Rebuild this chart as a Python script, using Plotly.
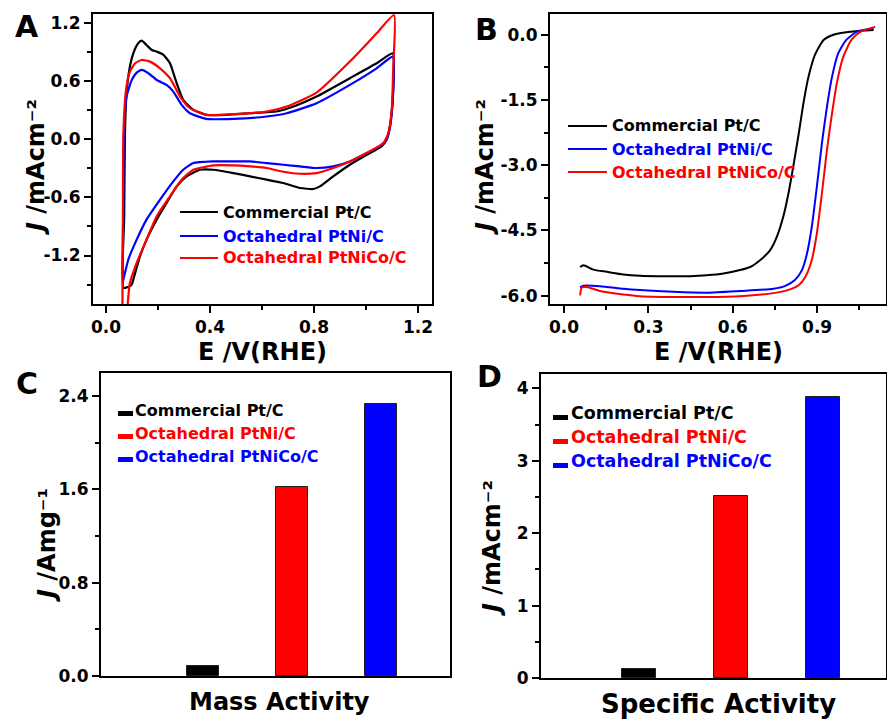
import plotly.graph_objects as go

W, H = 887, 725
FONT = "DejaVu Sans"

samples = ["Commercial Pt/C", "Octahedral PtNi/C", "Octahedral PtNiCo/C"]

# ---- Panel A: cyclic voltammograms (E in V vs RHE, J in mA/cm2) ----
cv_pt_E = [0.067, 0.070, 0.073, 0.079, 0.092, 0.105, 0.124, 0.137, 0.156, 0.176, 0.195, 0.221, 0.246,
           0.272, 0.297, 0.336, 0.387, 0.464, 0.554, 0.656, 0.721, 0.810, 0.938, 1.041, 1.103,
           1.103, 1.092, 1.079, 1.060, 1.003, 0.938, 0.874, 0.823, 0.797, 0.746, 0.682, 0.618, 0.554,
           0.490, 0.413, 0.362, 0.310, 0.272, 0.233, 0.195, 0.156, 0.131, 0.105, 0.099, 0.092, 0.067]
cv_pt_J = [-1.533, -0.800, 0.062, 0.473, 0.748, 0.885, 0.988, 1.015, 0.970, 0.919, 0.902, 0.868, 0.782,
           0.576, 0.405, 0.302, 0.250, 0.250, 0.267, 0.285, 0.336, 0.439, 0.628, 0.782, 0.885,
           0.405, 0.130, -0.007, -0.075, -0.161, -0.264, -0.384, -0.487, -0.514, -0.504, -0.453, -0.418, -0.384,
           -0.350, -0.316, -0.316, -0.384, -0.487, -0.658, -0.830, -1.036, -1.207, -1.447, -1.499, -1.516, -1.533]

cv_ni_E = [0.064, 0.066, 0.069, 0.079, 0.099, 0.118, 0.137, 0.163, 0.195, 0.233, 0.259, 0.291, 0.323,
           0.387, 0.490, 0.618, 0.695, 0.810, 0.938, 1.041, 1.103,
           1.103, 1.092, 1.079, 1.054, 1.003, 0.938, 0.874, 0.810, 0.746, 0.682, 0.618, 0.554, 0.490,
           0.413, 0.336, 0.297, 0.259, 0.208, 0.156, 0.118, 0.086, 0.067, 0.064]
cv_ni_J = [-1.481, -0.800, 0.062, 0.439, 0.610, 0.686, 0.713, 0.679, 0.610, 0.559, 0.490, 0.353, 0.267,
           0.209, 0.209, 0.233, 0.267, 0.370, 0.559, 0.730, 0.850,
           0.405, 0.113, -0.007, -0.075, -0.144, -0.230, -0.281, -0.298, -0.281, -0.264, -0.247, -0.230, -0.230,
           -0.230, -0.247, -0.316, -0.436, -0.624, -0.830, -1.036, -1.241, -1.447, -1.481]

cv_co_E = [0.063, 0.065, 0.067, 0.077, 0.092, 0.112, 0.137, 0.169, 0.208, 0.246, 0.285, 0.323, 0.387,
           0.490, 0.618, 0.695, 0.810, 0.938, 1.041, 1.108,
           1.105, 1.099, 1.086, 1.067, 1.003, 0.938, 0.874, 0.810, 0.746, 0.682, 0.618, 0.554, 0.490,
           0.413, 0.336, 0.291, 0.246, 0.195, 0.156, 0.118, 0.092, 0.079]
cv_co_J = [-1.850, -0.800, 0.062, 0.508, 0.696, 0.782, 0.816, 0.799, 0.730, 0.628, 0.439, 0.319, 0.250,
           0.257, 0.285, 0.336, 0.480, 0.800, 1.091, 1.279,
           0.748, 0.302, 0.062, -0.041, -0.144, -0.230, -0.298, -0.350, -0.357, -0.336, -0.298, -0.281, -0.271,
           -0.271, -0.316, -0.418, -0.590, -0.796, -1.036, -1.276, -1.481, -1.850]

# ---- Panel B: ORR polarization curves ----
lsv_pt_E = [0.057, 0.069, 0.104, 0.152, 0.211, 0.270, 0.330, 0.389, 0.448, 0.508, 0.567, 0.626, 0.662,
            0.698, 0.733, 0.757, 0.781, 0.798, 0.816, 0.834, 0.852, 0.870, 0.893, 0.923, 0.958, 1.018, 1.101]
lsv_pt_J = [-5.34, -5.30, -5.40, -5.45, -5.51, -5.54, -5.55, -5.55, -5.55, -5.53, -5.49, -5.41, -5.34,
            -5.18, -4.95, -4.64, -4.15, -3.65, -3.00, -2.30, -1.55, -0.95, -0.45, -0.12, 0.00, 0.07, 0.11]

lsv_ni_E = [0.057, 0.069, 0.128, 0.211, 0.270, 0.389, 0.508, 0.626, 0.745, 0.785, 0.821, 0.846, 0.864,
            0.881, 0.899, 0.917, 0.935, 0.953, 0.975, 1.004, 1.042, 1.101]
lsv_ni_J = [-5.81, -5.77, -5.78, -5.84, -5.87, -5.91, -5.93, -5.89, -5.84, -5.78, -5.64, -5.41, -5.03,
            -4.42, -3.50, -2.50, -1.66, -0.97, -0.43, -0.12, 0.07, 0.15]

lsv_co_E = [0.057, 0.063, 0.081, 0.128, 0.211, 0.270, 0.389, 0.508, 0.626, 0.745, 0.796, 0.834, 0.858,
            0.881, 0.899, 0.917, 0.935, 0.953, 0.970, 0.993, 1.022, 1.055, 1.107]
lsv_co_J = [-5.99, -5.81, -5.80, -5.89, -5.97, -6.01, -6.03, -6.03, -6.01, -5.94, -5.87, -5.76, -5.57,
            -5.18, -4.57, -3.65, -2.65, -1.81, -1.12, -0.51, -0.12, 0.07, 0.18]

# ---- Panels C, D: activities ----
mass_activity = [0.09, 1.62, 2.33]        # A/mg
specific_activity = [0.13, 2.51, 3.88]    # mA/cm2

# tick labels
a_xticks = [0.0, 0.4, 0.8, 1.2]
a_xtext = ["0.0", "0.4", "0.8", "1.2"]
a_yticks = [-1.2, -0.6, 0.0, 0.6, 1.2]
a_ytext = ["-1.2", "-0.6", "0.0", "0.6", "1.2"]
b_xticks = [0.0, 0.3, 0.6, 0.9]
b_xtext = ["0.0", "0.3", "0.6", "0.9"]
b_yticks = [-6.0, -4.5, -3.0, -1.5, 0.0]
b_ytext = ["-6.0", "-4.5", "-3.0", "-1.5", "0.0"]
c_yticks = [0.0, 0.8, 1.6, 2.4]
c_ytext = ["0.0", "0.8", "1.6", "2.4"]
d_yticks = [0, 1, 2, 3, 4]
d_ytext = ["0", "1", "2", "3", "4"]

BLACK, BLUE, RED = "#000000", "#0000FF", "#FF0000"
line_colors = [BLACK, BLUE, RED]
bar_colors = [BLACK, RED, BLUE]


def px(x):
    return x / W


def py(y):
    return 1 - y / H


def bold(labels):
    return ["<b>%s</b>" % s for s in labels]


fig = go.Figure()

for E, J, name, c in [(cv_pt_E, cv_pt_J, samples[0], BLACK),
                      (cv_ni_E, cv_ni_J, samples[1], BLUE),
                      (cv_co_E, cv_co_J, samples[2], RED)]:
    fig.add_trace(go.Scatter(x=E, y=J, name=name, mode="lines", showlegend=False,
                             line=dict(color=c, width=2.2, shape="spline", smoothing=0.5),
                             xaxis="x", yaxis="y"))

for E, J, name, c in [(lsv_pt_E, lsv_pt_J, samples[0], BLACK),
                      (lsv_ni_E, lsv_ni_J, samples[1], BLUE),
                      (lsv_co_E, lsv_co_J, samples[2], RED)]:
    fig.add_trace(go.Scatter(x=E, y=J, name=name, mode="lines", showlegend=False,
                             line=dict(color=c, width=2, shape="spline", smoothing=0.6),
                             xaxis="x2", yaxis="y2"))

fig.add_trace(go.Bar(x=samples, y=mass_activity, width=0.37, showlegend=False,
                     marker=dict(color=bar_colors, line=dict(color="#202020", width=1)),
                     xaxis="x3", yaxis="y3"))
fig.add_trace(go.Bar(x=samples, y=specific_activity, width=0.37, showlegend=False,
                     marker=dict(color=bar_colors, line=dict(color="#202020", width=1)),
                     xaxis="x4", yaxis="y4"))

tickfont = dict(family=FONT, size=17, color="black", weight="bold")
common = dict(showline=True, linewidth=2, linecolor="black", mirror=True, showgrid=False,
              zeroline=False, ticks="outside", ticklen=7, tickwidth=2, tickcolor="black",
              tickfont=tickfont, automargin=False)


def minor(d):
    return dict(tickmode="linear", tick0=0, dtick=d, ticks="outside", ticklen=4,
                tickwidth=2, tickcolor="black", showgrid=False)


fig.update_layout(
    width=W, height=H, margin=dict(l=0, r=0, t=0, b=0),
    paper_bgcolor="white", plot_bgcolor="white", showlegend=False, bargap=0,
    xaxis=dict(domain=[px(93), px(432)], range=[-0.05, 1.254], anchor="y",
               tickmode="array", tickvals=a_xticks, ticktext=bold(a_xtext), minor=minor(0.2), **common),
    yaxis=dict(domain=[py(304), py(14)], range=[-1.70, 1.29], anchor="x",
               tickmode="array", tickvals=a_yticks, ticktext=bold(a_ytext), minor=minor(0.3), **common),
    xaxis2=dict(domain=[px(550), px(886)], range=[-0.05, 1.145], anchor="y2",
                tickmode="array", tickvals=b_xticks, ticktext=bold(b_xtext), minor=minor(0.15), **common),
    yaxis2=dict(domain=[py(304), py(14)], range=[-6.19, 0.476], anchor="x2",
                tickmode="array", tickvals=b_yticks, ticktext=bold(b_ytext), minor=minor(0.75), **common),
    xaxis3=dict(domain=[px(101), px(450)], range=[-1.146, 2.775], anchor="y3", type="category",
                showline=True, linewidth=2, linecolor="black", mirror=True, showgrid=False,
                zeroline=False, ticks="", showticklabels=False, automargin=False),
    yaxis3=dict(domain=[py(676), py(373)], range=[0, 2.597], anchor="x3",
                tickmode="array", tickvals=c_yticks, ticktext=bold(c_ytext), minor=minor(0.4), **common),
    xaxis4=dict(domain=[px(541), px(886)], range=[-1.073, 2.69], anchor="y4", type="category",
                showline=True, linewidth=2, linecolor="black", mirror=True, showgrid=False,
                zeroline=False, ticks="", showticklabels=False, automargin=False),
    yaxis4=dict(domain=[py(678), py(374)], range=[0, 4.2], anchor="x4",
                tickmode="array", tickvals=d_yticks, ticktext=bold(d_ytext), minor=minor(0.5), **common),
)

ann = []
shapes = []


def text(x, y, s, size, color="black", xanchor="center", angle=0):
    ann.append(dict(x=px(x), y=py(y), xref="paper", yref="paper", text=s, showarrow=False,
                    xanchor=xanchor, yanchor="middle", textangle=angle,
                    font=dict(family=FONT, size=size, color=color, weight="bold")))


# panel letters
text(27, 27, "A", 30)
text(486, 29, "B", 30)
text(27, 383, "C", 30)
text(489, 376, "D", 30)

# axis titles
text(262, 352, "E /V(RHE)", 24)
text(718, 352, "E /V(RHE)", 24)
text(279, 702, "Mass Activity", 24)
text(718, 704, "Specific Activity", 26)
text(36, 167, "<i>J</i> /mAcm\u207b\u00b2", 24, angle=-90)
text(485, 167, "<i>J</i> /mAcm\u207b\u00b2", 24, angle=-90)
text(47, 545, "<i>J</i> /Amg\u207b\u00b9", 24, angle=-90)
text(492, 548, "<i>J</i> /mAcm\u207b\u00b2", 24, angle=-90)

# legends A and B (line samples)
for (lx0, lx1, tx, rows) in [(180, 218, 221, [212, 236, 258]),
                             (568, 607, 610, [126, 149, 172])]:
    for name, c, yy in zip(samples, line_colors, rows):
        shapes.append(dict(type="line", xref="paper", yref="paper", x0=px(lx0), x1=px(lx1),
                           y0=py(yy), y1=py(yy), line=dict(color=c, width=2)))
        text(tx, yy, name, 16, color=c, xanchor="left")

# legends C and D (bar samples)
for (rx0, rx1, tx, rows, base, fs) in [(118, 133, 133, [410, 433, 456], [416, 439, 462], 16),
                                       (553, 568, 569, [413, 437, 461], [420, 444, 468], 17.5)]:
    for name, c, yy, bb in zip(samples, bar_colors, rows, base):
        shapes.append(dict(type="rect", xref="paper", yref="paper", x0=px(rx0), x1=px(rx1),
                           y0=py(bb), y1=py(bb - 5), fillcolor=c, line=dict(width=0)))
        text(tx, yy, name, fs, color=c, xanchor="left")

fig.update_layout(annotations=ann, shapes=shapes)
fig.write_html("out.html", config={"displayModeBar": False},
               post_script="document.body.style.margin='0';document.body.style.overflow='hidden';")
